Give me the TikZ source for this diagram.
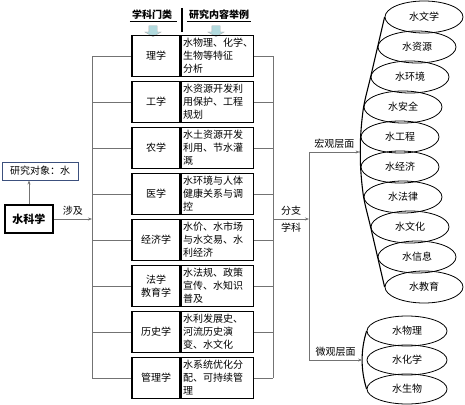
\documentclass[tikz,border=0pt]{standalone}
\usepackage{fontspec}
\setmainfont{Noto Sans CJK SC}
\usetikzlibrary{arrows.meta,shapes.geometric,shapes.arrows,calc}

\definecolor{arrowblue}{RGB}{178,218,222}
\definecolor{objblue}{RGB}{60,80,125}

\begin{document}
\begin{tikzpicture}[x=1pt,y=-1pt,
            txt/.style={font=\fontsize{10}{13}\selectfont},
            hdr/.style={font=\bfseries\fontsize{10}{12}\selectfont,inner sep=1pt},
            lcell/.style={txt,draw,line width=1.2pt,minimum width=48pt,minimum height=41pt,inner sep=1pt,align=center},
            rcell/.style={txt,draw,line width=1.2pt,minimum height=41pt,text width=68pt,inner sep=2pt,align=left,anchor=west},
            oval/.style={txt,draw,ellipse,line width=0.8pt,minimum width=78pt,minimum height=32pt,inner sep=0pt},
            downarr/.style={single arrow,draw=black!30,fill=arrowblue,shape border rotate=270,
                inner sep=4pt,minimum height=11pt,single arrow head extend=4pt,single arrow tip angle=120},
            link/.style={draw=black!55,line width=0.6pt},
            tip/.style={link,-{Stealth[length=4pt,width=3pt]}}]
            \useasboundingbox (0,0) rectangle (465,404);

            % headers
            \node[hdr] (hd1) at (152,15) {学科门类};
            \node[hdr] (hd2) at (219,15) {研究内容举例};
            \draw[line width=1pt] ([xshift=-1pt]hd1.south west) -- ([xshift=4pt]hd1.south east);
            \draw[line width=1pt] ([xshift=-1pt]hd2.south west) -- ([xshift=1pt]hd2.south east);
            \draw[line width=1.2pt] (182,8) -- (182,32);
            \node[downarr] (da1) at (153,30) {};
            \node[downarr] (da2) at (216,30) {};

            % disciplines
            \node[lcell] (l1) at (156,56) {理学};
            \node[rcell] (r1) at (l1.east) {水物理、化学、\\生物等特征\\分析};
            \node[lcell] (l2) at (156,102) {工学};
            \node[rcell] (r2) at (l2.east) {水资源开发利\\用保护、工程\\规划};
            \node[lcell] (l3) at (156,148) {农学};
            \node[rcell] (r3) at (l3.east) {水土资源开发\\利用、节水灌\\溉};
            \node[lcell] (l4) at (156,194) {医学};
            \node[rcell] (r4) at (l4.east) {水环境与人体\\健康关系与调\\控};
            \node[lcell] (l5) at (156,240) {经济学};
            \node[rcell] (r5) at (l5.east) {水价、水市场\\与水交易、水\\利经济};
            \node[lcell] (l6) at (156,286) {法学\\教育学};
            \node[rcell] (r6) at (l6.east) {水法规、政策\\宣传、水知识\\普及};
            \node[lcell] (l7) at (156,332) {历史学};
            \node[rcell] (r7) at (l7.east) {水利发展史、\\河流历史演\\变、水文化};
            \node[lcell] (l8) at (156,378) {管理学};
            \node[rcell] (r8) at (l8.east) {水系统优化分\\配、可持续管\\理};

            % water science
            \node[txt,draw=objblue,line width=0.9pt,minimum width=76pt,minimum height=18pt,inner sep=1pt] (obj) at (40,171) {研究对象：水};
            \node[draw,line width=1.5pt,minimum width=48pt,minimum height=28pt,font=\bfseries\fontsize{11}{12}\selectfont] (sci) at (29,219) {水科学};
            \draw[tip] (sci.north) -- (sci.north |- obj.south);

            \coordinate (lbus) at (92,219);
            \coordinate (rbus) at (273,219);
            \coordinate (split) at (309,219);
            \draw[tip] (sci.east) -- (lbus) node[txt,midway,above] {涉及};
            \draw[link] (l1.west -| lbus) -- (l8.west -| lbus);
            \draw[link] (r1.east -| rbus) -- (r8.east -| rbus);
            \foreach \i in {1,...,8} {
                \draw[link] (l\i.west -| lbus) -- (l\i.west);
                \draw[link] (r\i.east) -- (r\i.east -| rbus);
            }
            \draw[tip] (rbus) -- (split) node[txt,midway,above] {分支} node[txt,midway,below] {学科};

            % macro level
            \node[oval] (e1) at (424,17) {水文学};
            \node[oval] (e2) at (417,47) {水资源};
            \node[oval] (e3) at (410,77) {水环境};
            \node[oval] (e4) at (403,107) {水安全};
            \node[oval] (e5) at (400,137) {水工程};
            \node[oval] (e6) at (400,167) {水经济};
            \node[oval] (e7) at (403,197) {水法律};
            \node[oval] (e8) at (410,227) {水文化};
            \node[oval] (e9) at (417,257) {水信息};
            \node[oval] (e10) at (424,287) {水教育};
            \draw[line width=1.1pt] plot[smooth] coordinates {(e1.west) (e2.west) (e3.west) (e4.west) (e5.west)
                (e6.west) (e7.west) (e8.west) (e9.west) (e10.west)};
            \coordinate (macro) at ($(e5.west)!0.5!(e6.west)$);

            % micro level
            \node[oval,minimum width=80pt,minimum height=30pt] (m1) at (407,331) {水物理};
            \node[oval,minimum width=80pt,minimum height=30pt] (m2) at (407,360) {水化学};
            \node[oval,minimum width=80pt,minimum height=30pt] (m3) at (407,389) {水生物};
            \draw[line width=1.1pt] (m1.west) .. controls +(-6,19) and +(-6,-19) .. coordinate[pos=0.5] (micro) (m3.west);

            \draw[link] (split |- macro) -- (split |- micro);
            \draw[tip] (split |- macro) -- ([xshift=-1pt]macro) node[txt,midway,above] {宏观层面};
            \draw[tip] (split |- micro) -- (micro) node[txt,midway,above] {微观层面};
        \end{tikzpicture}
\end{document}
